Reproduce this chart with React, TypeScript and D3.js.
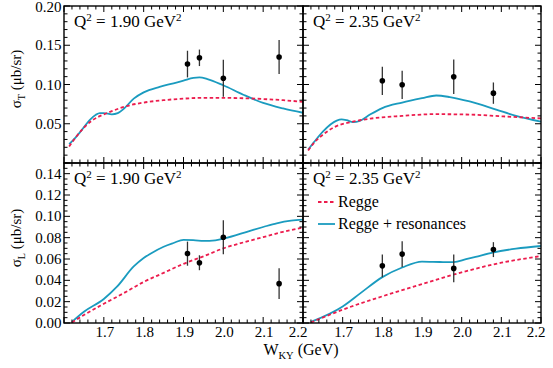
import React from "react";
import * as d3 from "d3";

// ---------- data ----------
const W_T1_regge = [1.613, 1.63, 1.65, 1.67, 1.7, 1.72, 1.75, 1.8, 1.85, 1.9, 1.95, 2.0, 2.05, 2.1, 2.15, 2.2];
const V_T1_regge = [0.021, 0.033, 0.045, 0.054, 0.062, 0.066, 0.0715, 0.077, 0.080, 0.082, 0.083, 0.083, 0.0825, 0.0815, 0.080, 0.078];
const W_T1_res = [1.613, 1.63, 1.64, 1.665, 1.68, 1.69, 1.7, 1.72, 1.735, 1.75, 1.775, 1.8, 1.84, 1.875, 1.9, 1.925, 1.94, 1.96, 2.0, 2.05, 2.1, 2.15, 2.2];
const V_T1_res = [0.024, 0.033, 0.039, 0.055, 0.0615, 0.0635, 0.0635, 0.062, 0.0635, 0.069, 0.082, 0.090, 0.097, 0.1015, 0.105, 0.1085, 0.109, 0.107, 0.099, 0.087, 0.0765, 0.0695, 0.064];

const W_T2_regge = [1.613, 1.63, 1.65, 1.68, 1.72, 1.77, 1.85, 1.93, 2.02, 2.1, 2.2];
const V_T2_regge = [0.016, 0.027, 0.036, 0.046, 0.052, 0.0565, 0.060, 0.0622, 0.0617, 0.0595, 0.0568];
const W_T2_res = [1.613, 1.63, 1.65, 1.685, 1.697, 1.71, 1.726, 1.743, 1.77, 1.8, 1.85, 1.9, 1.936, 1.97, 2.02, 2.087, 2.137, 2.2];
const V_T2_res = [0.017, 0.028, 0.040, 0.054, 0.0555, 0.0545, 0.052, 0.0535, 0.062, 0.070, 0.077, 0.0825, 0.086, 0.084, 0.0784, 0.068, 0.060, 0.0526];

const W_L1_regge = [1.62, 1.65, 1.7, 1.75, 1.8, 1.85, 1.9, 1.95, 2.0, 2.05, 2.1, 2.15, 2.2];
const V_L1_regge = [0.0005, 0.0075, 0.018, 0.028, 0.0385, 0.047, 0.0555, 0.0625, 0.070, 0.0755, 0.0805, 0.0855, 0.0895];
const W_L1_res = [1.62, 1.65, 1.7, 1.733, 1.775, 1.8, 1.817, 1.85, 1.875, 1.9, 1.93, 1.95, 1.98, 2.0, 2.067, 2.1, 2.134, 2.17, 2.2];
const V_L1_res = [0.001, 0.0105, 0.0225, 0.034, 0.053, 0.061, 0.065, 0.0715, 0.075, 0.078, 0.0775, 0.077, 0.0775, 0.079, 0.0864, 0.090, 0.0935, 0.096, 0.097];

const W_L2_regge = [1.62, 1.7, 1.8, 1.9, 2.0, 2.1, 2.2];
const V_L2_regge = [0.0005, 0.0125, 0.025, 0.0365, 0.0475, 0.0565, 0.0627];
const W_L2_res = [1.62, 1.7, 1.745, 1.8, 1.85, 1.9, 1.945, 1.98, 2.011, 2.035, 2.078, 2.137, 2.2];
const V_L2_res = [0.001, 0.0155, 0.028, 0.043, 0.052, 0.0576, 0.0572, 0.057, 0.0598, 0.062, 0.066, 0.0697, 0.0722];

const W_data1 = [1.91, 1.94, 2.0, 2.14];
const W_data2 = [1.8, 1.85, 1.98, 2.08];
const T1_val = [0.126, 0.134, 0.108, 0.135];
const T1_err = [0.017, 0.0105, 0.0235, 0.0217];
const T2_val = [0.1047, 0.0996, 0.1098, 0.089];
const T2_err = [0.018, 0.018, 0.022, 0.0136];
const L1_val = [0.065, 0.0565, 0.0804, 0.0369];
const L1_err = [0.0113, 0.007, 0.016, 0.0145];
const L2_val = [0.0536, 0.0646, 0.0512, 0.0688];
const L2_err = [0.0107, 0.012, 0.013, 0.007];

const Q2_labels = ["1.90", "2.35"];
const X_TICK_LABELS = ["1.7", "1.8", "1.9", "2.0", "2.1", "2.2"];
const YT_TICK_LABELS = ["0.05", "0.10", "0.15", "0.20"];
const YL_TICK_LABELS = ["0.00", "0.02", "0.04", "0.06", "0.08", "0.10", "0.12", "0.14"];
const LEGEND = ["Regge", "Regge + resonances"];

// ---------- layout ----------
const RED = "#ec1c4d";
const BLUE = "#1a9bbf";
const FONT = "'Liberation Serif', Tinos, 'Nimbus Roman', 'DejaVu Serif', serif";
const X0 = 64, XM = 303, X1 = 541;
const Y0 = 6, YM = 163, Y1 = 323;

type Panel = {
  x0: number; x1: number; y0: number; y1: number;
  yMax: number; yMajor: number; yMinor: number;
  reggeW: number[]; reggeV: number[]; resW: number[]; resV: number[];
  dW: number[]; dV: number[]; dE: number[];
  q2: string; xLabels: boolean; yLabels: string[] | null; legend: boolean;
};

function range(a: number, b: number, s: number) {
  const out: number[] = [];
  const n = Math.round((b - a) / s);
  for (let i = 0; i <= n; i++) out.push(+(a + i * s).toFixed(6));
  return out;
}

const tStyle = { fontFamily: FONT };

function PanelView({ p }: { p: Panel }) {
  const x = d3.scaleLinear().domain([1.6, 2.2]).range([p.x0, p.x1]);
  const y = d3.scaleLinear().domain([0, p.yMax]).range([p.y1, p.y0]);
  const line = d3.line<[number, number]>().x(d => x(d[0])).y(d => y(d[1])).curve(d3.curveMonotoneX);
  const regge = line(p.reggeW.map((w, i) => [w, p.reggeV[i]]) as [number, number][]) || "";
  const res = line(p.resW.map((w, i) => [w, p.resV[i]]) as [number, number][]) || "";
  const xMaj = range(1.6, 2.2, 0.1);
  const xMin = range(1.6, 2.2, 0.02);
  const yMaj = range(0, p.yMax, p.yMajor);
  const yMin = range(0, p.yMax, p.yMinor);
  const ML = 6, mL = 3.5;
  const ticks: any[] = [];
  xMin.forEach((v, i) => {
    const isMaj = xMaj.some(m => Math.abs(m - v) < 1e-6);
    const L = isMaj ? ML : mL;
    const xx = x(v);
    ticks.push(<line key={"xb" + i} x1={xx} x2={xx} y1={p.y1} y2={p.y1 - L} />);
    ticks.push(<line key={"xt" + i} x1={xx} x2={xx} y1={p.y0} y2={p.y0 + L} />);
  });
  yMin.forEach((v, i) => {
    const isMaj = yMaj.some(m => Math.abs(m - v) < 1e-6);
    const L = isMaj ? ML : mL;
    const yy = y(v);
    ticks.push(<line key={"yl" + i} x1={p.x0} x2={p.x0 + L} y1={yy} y2={yy} />);
    ticks.push(<line key={"yr" + i} x1={p.x1} x2={p.x1 - L} y1={yy} y2={yy} />);
  });
  return (
    <g>
      <clipPath id={"clip" + p.x0 + "_" + p.y0}>
        <rect x={p.x0} y={p.y0} width={p.x1 - p.x0} height={p.y1 - p.y0} />
      </clipPath>
      <g clipPath={`url(#clip${p.x0}_${p.y0})`}>
        <path d={res} fill="none" stroke={BLUE} strokeWidth={1.8} />
        <path d={regge} fill="none" stroke={RED} strokeWidth={1.8} strokeDasharray="3.5,2.5" />
      </g>
      {p.dW.map((w, i) => (
        <g key={"d" + i}>
          <line x1={x(w)} x2={x(w)} y1={y(p.dV[i] - p.dE[i])} y2={y(p.dV[i] + p.dE[i])} stroke="#333" strokeWidth={1.3} />
          <circle cx={x(w)} cy={y(p.dV[i])} r={2.8} fill="#000" />
        </g>
      ))}
      <g stroke="#000" strokeWidth={1}>{ticks}</g>
      <rect x={p.x0} y={p.y0} width={p.x1 - p.x0} height={p.y1 - p.y0} fill="none" stroke="#000" strokeWidth={1.4} />
      <text x={p.x0 + 10} y={p.y0 + 21} style={tStyle} fontSize={17} fill="#000">
        Q<tspan dy={-6} fontSize={11}>2</tspan><tspan dy={6}> = {p.q2} GeV</tspan><tspan dy={-6} fontSize={11}>2</tspan>
      </text>
      {p.xLabels && X_TICK_LABELS.map((t, i) => (
        <text key={"xl" + i} x={x(+t) + (i === X_TICK_LABELS.length - 1 ? -5 : 1)} y={p.y1 + 14} textAnchor="middle" style={tStyle} fontSize={15} fill="#000">{t}</text>
      ))}
      {p.yLabels && p.yLabels.map((t, i) => (
        <text key={"yl" + i} x={p.x0 - 2.5} y={Math.max(y(+t) + 5, 12)} textAnchor="end" style={tStyle} fontSize={15} fill="#000">{t}</text>
      ))}
      {p.legend && (
        <g style={tStyle} fontSize={16} fill="#000">
          <line x1={p.x0 + 15} x2={p.x0 + 32} y1={p.y0 + 39} y2={p.y0 + 39} stroke={RED} strokeWidth={1.8} strokeDasharray="3.5,2.5" />
          <text x={p.x0 + 35} y={p.y0 + 44}>{LEGEND[0]}</text>
          <line x1={p.x0 + 15} x2={p.x0 + 32} y1={p.y0 + 61} y2={p.y0 + 61} stroke={BLUE} strokeWidth={1.8} />
          <text x={p.x0 + 35} y={p.y0 + 66}>{LEGEND[1]}</text>
        </g>
      )}
    </g>
  );
}

export default function App() {
  const panels: Panel[] = [
    { x0: X0, x1: XM, y0: Y0, y1: YM, yMax: 0.2, yMajor: 0.05, yMinor: 0.01,
      reggeW: W_T1_regge, reggeV: V_T1_regge, resW: W_T1_res, resV: V_T1_res,
      dW: W_data1, dV: T1_val, dE: T1_err, q2: Q2_labels[0], xLabels: false, yLabels: YT_TICK_LABELS, legend: false },
    { x0: XM, x1: X1, y0: Y0, y1: YM, yMax: 0.2, yMajor: 0.05, yMinor: 0.01,
      reggeW: W_T2_regge, reggeV: V_T2_regge, resW: W_T2_res, resV: V_T2_res,
      dW: W_data2, dV: T2_val, dE: T2_err, q2: Q2_labels[1], xLabels: false, yLabels: null, legend: false },
    { x0: X0, x1: XM, y0: YM, y1: Y1, yMax: 0.15, yMajor: 0.02, yMinor: 0.005,
      reggeW: W_L1_regge, reggeV: V_L1_regge, resW: W_L1_res, resV: V_L1_res,
      dW: W_data1, dV: L1_val, dE: L1_err, q2: Q2_labels[0], xLabels: true, yLabels: YL_TICK_LABELS, legend: false },
    { x0: XM, x1: X1, y0: YM, y1: Y1, yMax: 0.15, yMajor: 0.02, yMinor: 0.005,
      reggeW: W_L2_regge, reggeV: V_L2_regge, resW: W_L2_res, resV: V_L2_res,
      dW: W_data2, dV: L2_val, dE: L2_err, q2: Q2_labels[1], xLabels: true, yLabels: null, legend: true },
  ];
  return (
    <svg width={553} height={368} style={{ position: "absolute", left: 0, top: 0, background: "#fff" }}>
      {panels.map((p, i) => <PanelView key={i} p={p} />)}
      <text transform="translate(21,79) rotate(-90)" textAnchor="middle" style={tStyle} fontSize={15} fill="#000">
        σ<tspan dy={4} fontSize={10}>T</tspan><tspan dy={-4}> (μb/sr)</tspan>
      </text>
      <text transform="translate(21,238) rotate(-90)" textAnchor="middle" style={tStyle} fontSize={15} fill="#000">
        σ<tspan dy={4} fontSize={10}>L</tspan><tspan dy={-4}> (μb/sr)</tspan>
      </text>
      <text x={301} y={355} textAnchor="middle" style={tStyle} fontSize={16} fill="#000">
        W<tspan dy={4} fontSize={10.5}>KY</tspan><tspan dy={-4}> (GeV)</tspan>
      </text>
    </svg>
  );
}
